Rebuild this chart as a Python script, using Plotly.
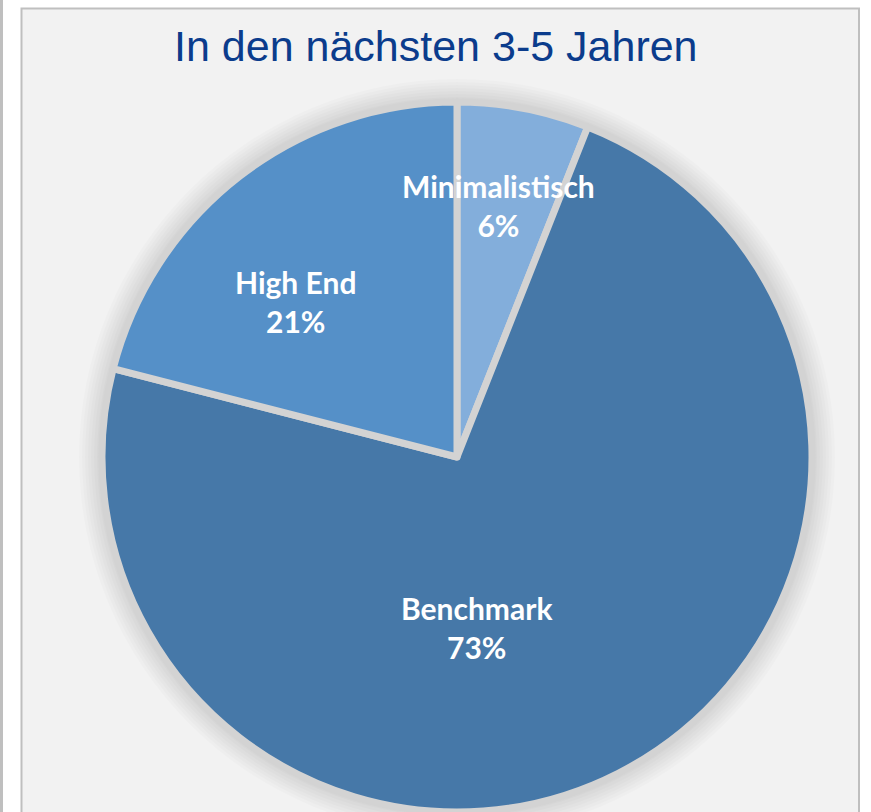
import plotly.graph_objects as go

# data
segments = ["Minimalistisch", "Benchmark", "High End"]
shares = [6, 73, 21]
colors = ["#83aedb", "#4678a8", "#5590c8"]
title_text = "In den nächsten 3-5 Jahren"

W, H = 871, 812
# pie geometry in pixels (from top-left)
cx, cy, r = 457, 457, 355


def px(x):
    return x / W


def py(y):
    return 1 - y / H


fig = go.Figure()

fig.add_trace(
    go.Pie(
        labels=segments,
        values=shares,
        sort=False,
        direction="clockwise",
        rotation=0,
        marker=dict(colors=colors, line=dict(color="#d3d3d3", width=7)),
        textinfo="none",
        hoverinfo="label+percent",
        showlegend=False,
        domain=dict(x=[px(cx - r), px(cx + r)], y=[max(0, py(cy + r)), py(cy - r)]),
    )
)

shapes = []
# panel on the left (cut off) and main panel
shapes.append(dict(type="line", xref="paper", yref="paper", x0=px(1.5), x1=px(1.5), y0=0, y1=1,
                   line=dict(color="#bfbfbf", width=3), layer="below"))
shapes.append(dict(type="rect", xref="paper", yref="paper", x0=px(21.5), x1=px(859), y0=py(830), y1=py(8.5),
                   fillcolor="#f2f2f2", line=dict(color="#bfbfbf", width=2), layer="below"))
# soft shadow around the pie
rr = r - 3
for d in range(26, 0, -3):
    shapes.append(dict(type="circle", xref="paper", yref="paper",
                       x0=px(cx - rr - d), x1=px(cx + rr + d), y0=py(cy + rr + d), y1=py(cy - rr - d),
                       fillcolor="rgba(0,0,0,0.014)", line=dict(width=0), layer="below"))

# label placement (best-fit style positions, pixels)
label_pos = {"Minimalistisch": (498, 205), "High End": (295, 302), "Benchmark": (477, 627)}
total = sum(shares)
annotations = []
for name, val in zip(segments, shares):
    x, y = label_pos[name]
    annotations.append(dict(
        x=px(x), y=py(y), xref="paper", yref="paper", showarrow=False,
        text=f"<b>{name}<br>{round(val / total * 100)}%</b>",
        font=dict(family="Lato, Carlito, Calibri, sans-serif", size=30, color="white"),
        xanchor="center", yanchor="middle", align="center",
    ))
annotations.append(dict(
    x=px(436), y=py(46), xref="paper", yref="paper", showarrow=False,
    text=title_text,
    font=dict(family="Arial, Liberation Sans, sans-serif", size=43, color="#0b3c8c"),
    xanchor="center", yanchor="middle",
))

fig.update_layout(
    width=W,
    height=H,
    margin=dict(l=0, r=0, t=0, b=0),
    paper_bgcolor="white",
    plot_bgcolor="white",
    shapes=shapes,
    annotations=annotations,
)

fig.write_html("out.html", config={"displayModeBar": False},
               post_script="document.body.style.margin='0';")
